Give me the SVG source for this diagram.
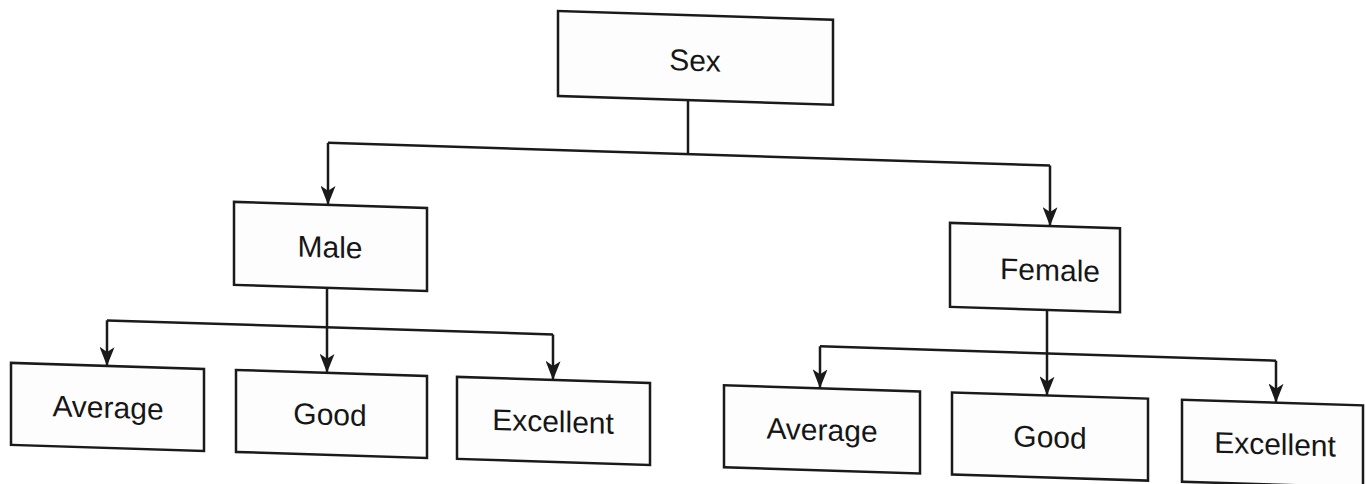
<svg xmlns="http://www.w3.org/2000/svg" width="1366" height="484" viewBox="0 0 1366 484">
<style>
.box{fill:#fdfdfd;stroke:#1a1a1a;stroke-width:2.5}
.lbl{font-family:"Liberation Sans",Arial,sans-serif;font-size:30px;fill:#161616;text-anchor:middle}
.con{fill:none;stroke:#1a1a1a;stroke-width:2.5}
</style>
<defs>
<marker id="arrd" viewBox="0 0 15 19" refX="7.5" refY="19" markerWidth="15" markerHeight="19" markerUnits="userSpaceOnUse" orient="0">
<path d="M0,0 L7.5,5 L15,0 L7.5,19 Z" fill="#1a1a1a"/>
</marker>
</defs>
<rect width="1366" height="484" fill="#ffffff"/>
<g transform="translate(683 0) skewY(1.8) translate(-683 0)">
<g id="connectors">
<path class="con" d="M688,100 V154"/>
<path class="con" d="M328,154 H1050"/>
<path class="con" d="M328,154 V216" marker-end="url(#arrd)"/>
<path class="con" d="M1050,154 V214.5" marker-end="url(#arrd)"/>
<path class="con" d="M327,299 V384" marker-end="url(#arrd)"/>
<path class="con" d="M107,338.5 H553"/>
<path class="con" d="M107,338.5 V384" marker-end="url(#arrd)"/>
<path class="con" d="M553,338.5 V384" marker-end="url(#arrd)"/>
<path class="con" d="M1047,298.5 V384" marker-end="url(#arrd)"/>
<path class="con" d="M820,342 H1276"/>
<path class="con" d="M820,342 V384" marker-end="url(#arrd)"/>
<path class="con" d="M1276,342 V384" marker-end="url(#arrd)"/>
</g>
<g id="sex"><rect class="box" x="558" y="15" width="275" height="85"/><text class="lbl" x="695" y="70.5">Sex</text></g>
<g id="male"><rect class="box" x="234" y="216" width="193" height="83"/><text class="lbl" x="330" y="268.5">Male</text></g>
<g id="female"><rect class="box" x="950" y="214.5" width="170" height="84"/><text class="lbl" x="1050" y="269">Female</text></g>
<g id="male-average"><rect class="box" x="11" y="384" width="193" height="82"/><text class="lbl" x="108" y="436">Average</text></g>
<g id="male-good"><rect class="box" x="236" y="384" width="191" height="82"/><text class="lbl" x="330" y="436">Good</text></g>
<g id="male-excellent"><rect class="box" x="457" y="384" width="193" height="82"/><text class="lbl" x="553" y="436">Excellent</text></g>
<g id="female-average"><rect class="box" x="724" y="384" width="196" height="82"/><text class="lbl" x="822" y="436">Average</text></g>
<g id="female-good"><rect class="box" x="952" y="384" width="196" height="82"/><text class="lbl" x="1050" y="436">Good</text></g>
<g id="female-excellent"><rect class="box" x="1182" y="384" width="181" height="82"/><text class="lbl" x="1275" y="436">Excellent</text></g>
</g>
</svg>
